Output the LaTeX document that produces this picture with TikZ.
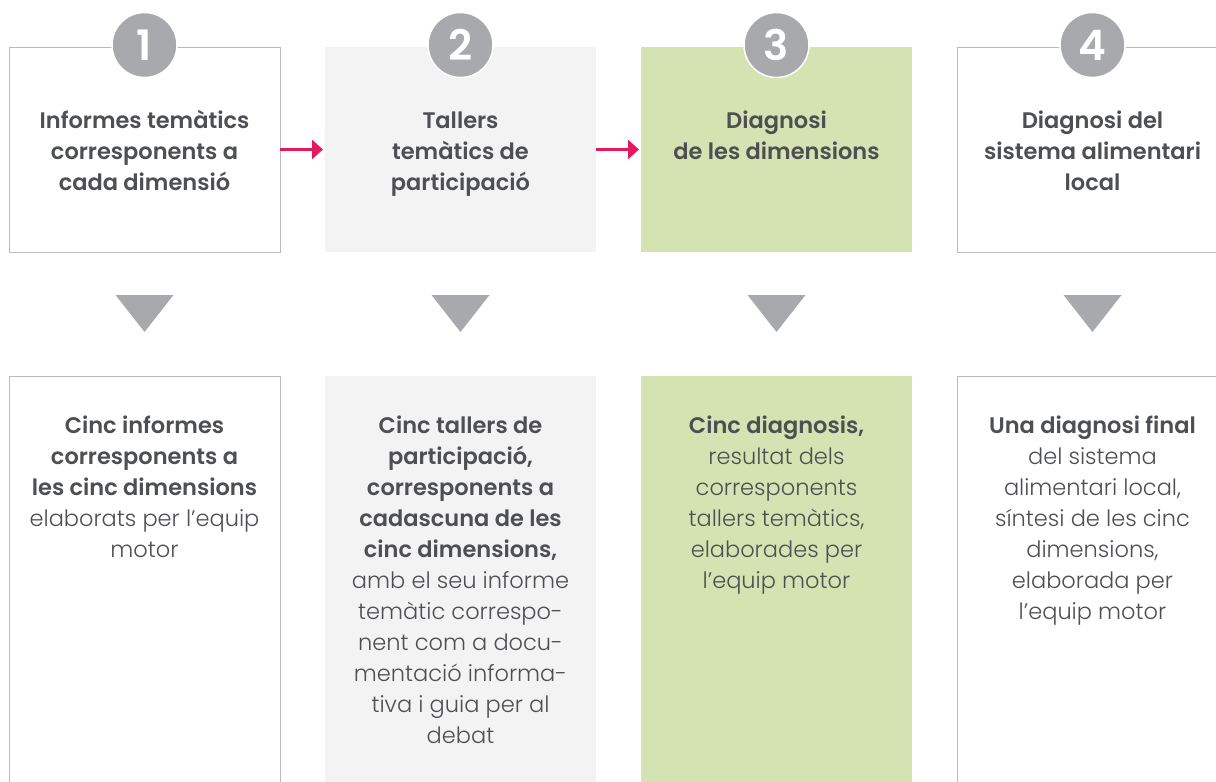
\documentclass[tikz,border=0pt]{standalone}
\usepackage{fontspec}
\setmainfont{Poppins}[BoldFont={Poppins SemiBold}]
\newfontfamily\lightfont{Poppins Light}
\usepackage{xcolor}
\usepackage{tikz}
\usetikzlibrary{arrows.meta, positioning, calc}

\definecolor{txtgray}{HTML}{4D4F53}
\definecolor{numgray}{HTML}{A7A9AC}
\definecolor{linegray}{HTML}{B9BBBE}
\definecolor{panelgray}{HTML}{F3F3F3}
\definecolor{panelgreen}{HTML}{D4E3B1}
\definecolor{arrowred}{HTML}{E5195A}

\newcommand{\hl}[1]{{\rmfamily\bfseries #1}}

\begin{document}
\begin{tikzpicture}[
  x=1pt, y=-1pt,
  node distance=45pt,
  every node/.style={font=\fontsize{22.5}{31}\selectfont, text=txtgray, outer sep=0pt},
  topbox/.style={minimum width=271pt, minimum height=205pt, inner sep=0pt},
  lowbox/.style={minimum width=271pt, minimum height=440pt, inner sep=0pt},
  outlined/.style={draw=linegray, line width=1pt, fill=white},
  greybg/.style={fill=panelgray},
  greenbg/.style={fill=panelgreen},
  numdot/.style={circle, fill=numgray, draw=white, line width=1.5pt, minimum size=65pt, inner sep=0pt, text=white, font=\fontsize{42}{42}\selectfont\bfseries},
  headtxt/.style={align=center, inner sep=0pt, font=\fontsize{22.5}{31}\selectfont\bfseries},
  bodytxt/.style={align=center, inner sep=0pt, font=\fontsize{22.5}{31}\selectfont\lightfont},
  arrow/.style={-{Triangle[length=11pt, width=19pt]}, line width=3pt, arrowred, shorten >=2pt},
]
\useasboundingbox (0,0) rectangle (1216,782);

% Top row
\node[topbox, outlined, anchor=north west] (top1) at (9,47) {};
\node[topbox, greybg, right=of top1] (top2) {};
\node[topbox, greenbg, right=of top2] (top3) {};
\node[topbox, outlined, right=of top3] (top4) {};

% Bottom row
\node[lowbox, outlined, below=124pt of top1] (low1) {};
\node[lowbox, greybg, below=124pt of top2] (low2) {};
\node[lowbox, greenbg, below=124pt of top3] (low3) {};
\node[lowbox, outlined, below=124pt of top4] (low4) {};

% Step numbers
\foreach \i in {1,...,4}
  \node[numdot] (num\i) at ($(top\i.north)+(0,-2)$) {\i};

% Down triangles
\foreach \i in {1,...,4}
  \fill[numgray] ($(top\i.south)+(-29,43)$) -- ++(58,0) -- ($(top\i.south)+(0,80)$) -- cycle;

% Arrows
\draw[arrow] (top1) -- (top2);
\draw[arrow] (top2) -- (top3);

% Titles
\node[headtxt, anchor=north, below=60pt of top1.north] (head1) {\strut Informes temàtics\\corresponents a\\cada dimensió};
\node[headtxt, anchor=north, below=60pt of top2.north] (head2) {\strut Tallers\\temàtics de\\participació};
\node[headtxt, anchor=north, below=60pt of top3.north] (head3) {\strut Diagnosi\\de les dimensions};
\node[headtxt, anchor=north, below=60pt of top4.north] (head4) {\strut Diagnosi del\\sistema alimentari\\local};

% Results
\node[bodytxt, below=36pt of low1.north] (body1) {\strut\hl{Cinc informes}\\\hl{corresponents a}\\\hl{les cinc dimensions}\\elaborats per l’equip\\motor};
\node[bodytxt, below=36pt of low2.north] (body2) {\strut\hl{Cinc tallers de}\\\hl{participació,}\\\hl{corresponents a}\\\hl{cadascuna de les}\\\hl{cinc dimensions,}\\amb el seu informe\\temàtic correspo-\\nent com a docu-\\mentació informa-\\tiva i guia per al\\debat};
\node[bodytxt, below=36pt of low3.north] (body3) {\strut\hl{Cinc diagnosis,}\\resultat dels\\corresponents\\tallers temàtics,\\elaborades per\\l’equip motor};
\node[bodytxt, below=36pt of low4.north] (body4) {\strut\hl{Una diagnosi final}\\del sistema\\alimentari local,\\síntesi de les cinc\\dimensions,\\elaborada per\\l’equip motor};

\end{tikzpicture}
\end{document}
